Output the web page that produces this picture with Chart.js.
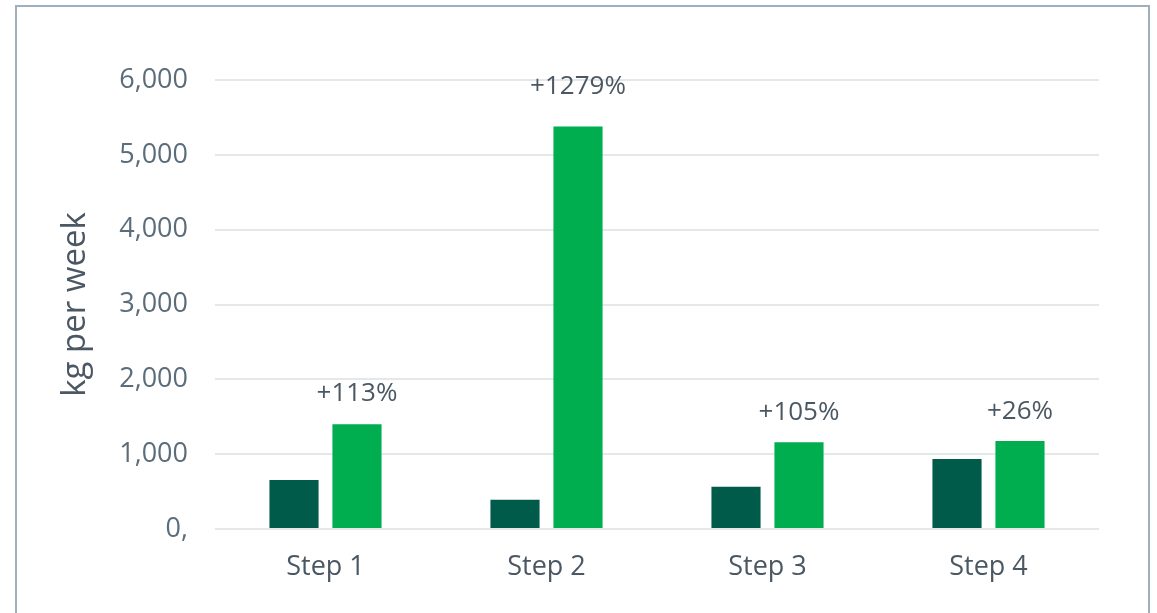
<!DOCTYPE html>
<html>
<head>
<meta charset="utf-8">
<script src="https://cdn.jsdelivr.net/npm/chart.js@4"></script>
<style>
  html, body { margin: 0; padding: 0; background: #fff; }
  #wrap { position: relative; width: 1157px; height: 613px; overflow: hidden; }
  #frame {
    position: absolute; left: 15px; top: 5px; width: 1131px; height: 640px;
    border: 2px solid #9fb0bc; box-sizing: content-box;
  }
  canvas { position: absolute; left: 0; top: 0; }
</style>
</head>
<body>
<div id="wrap">
  <div id="frame"></div>
  <canvas id="chart" width="1157" height="613"></canvas>
</div>
<script>
// values
var steps = ['Step 1', 'Step 2', 'Step 3', 'Step 4'];
var before = [655, 390, 565, 935];
var after = [1400, 5380, 1160, 1175];
var changes = ['+113%', '+1279%', '+105%', '+26%'];
var tickLabels = ['0,', '1,000', '2,000', '3,000', '4,000', '5,000', '6,000'];

var font = '"Open Sans", sans-serif';

var changeLabels = {
  id: 'changeLabels',
  afterDatasetsDraw: function(chart) {
    var ctx = chart.ctx;
    var meta = chart.getDatasetMeta(1);
    ctx.save();
    ctx.font = '26px ' + font;
    ctx.fillStyle = '#4b5863';
    ctx.textAlign = 'center';
    ctx.textBaseline = 'middle';
    meta.data.forEach(function(bar, i) {
      ctx.fillText(changes[i], bar.x, bar.y - 27 - bar.height * 0.032);
    });
    ctx.restore();
  }
};

var ctx = document.getElementById('chart').getContext('2d');
new Chart(ctx, {
  type: 'bar',
  data: {
    labels: steps,
    datasets: [
      { data: before, backgroundColor: '#015b4a' },
      { data: after, backgroundColor: '#00ae50' }
    ]
  },
  options: {
    responsive: false,
    animation: false,
    categoryPercentage: 0.57,
    barPercentage: 0.78,
    layout: { padding: { left: 56, right: 58, top: 80, bottom: 0 } },
    plugins: { legend: { display: false }, tooltip: { enabled: false } },
    scales: {
      x: {
        grid: { display: false },
        border: { display: false },
        ticks: { color: '#4b5863', font: { family: font, size: 27 }, padding: 14 },
        afterFit: function(scale) { scale.height = 84; }
      },
      y: {
        min: 0,
        max: 6000,
        grid: { color: '#e4e8eb', lineWidth: 2, drawTicks: false },
        border: { display: false },
        ticks: {
          stepSize: 1000,
          color: '#5b6d7a',
          font: { family: font, size: 27 },
          padding: 27,
          callback: function(v, i) { return tickLabels[i]; }
        },
        title: {
          display: true,
          text: 'kg per week',
          color: '#4b5863',
          font: { family: font, size: 33 },
          padding: 0
        },
        afterFit: function(scale) { scale.width = 159; }
      }
    }
  },
  plugins: [changeLabels]
});
</script>
</body>
</html>
